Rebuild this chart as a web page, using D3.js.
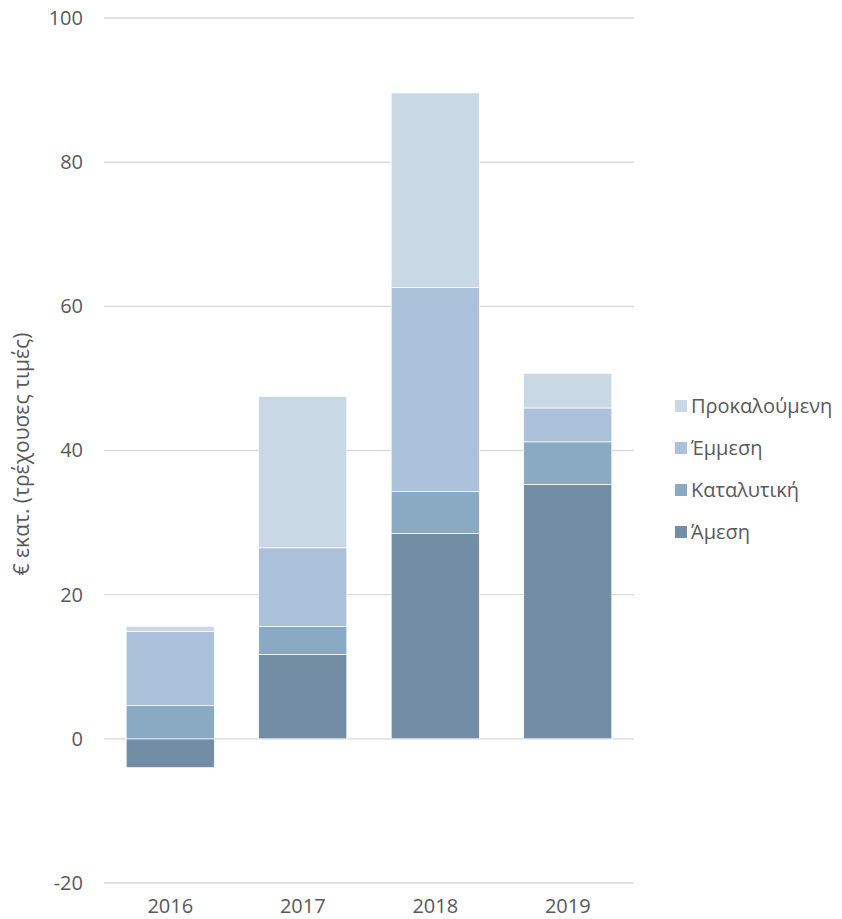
<!DOCTYPE html>
<html><head><meta charset="utf-8">
<script src="https://cdn.jsdelivr.net/npm/d3@7"></script>
<style>body{margin:0;background:#fff;} text{font-family:"Open Sans","Noto Sans",sans-serif;fill:#595959;}</style>
</head><body><svg id="c" width="842" height="919"></svg>
<script>
const years = ["2016","2017","2018","2019"];
const seriesNames = ["Άμεση","Καταλυτική","Έμμεση","Προκαλούμενη"];
const amesi = [-4.0, 11.7, 28.5, 35.3];
const katalytiki = [4.6, 3.9, 5.8, 5.9];
const emmesi = [10.3, 10.9, 28.3, 4.7];
const prokaloumeni = [0.7, 21.0, 27.0, 4.8];
const colors = ["#738da5","#8aa9c3","#abc1d9","#c9d8e5"];
const yTicks = [-20,0,20,40,60,80,100];

const svg = d3.select("#c");
const x = d3.scaleBand().domain(years).range([104,634]).paddingInner(0.335).paddingOuter(0.1675);
const y = d3.scaleLinear().domain([-20,100]).range([883,18]);
const FS = "20px";

// grid
svg.append("g").selectAll("line").data(yTicks).join("line")
  .attr("x1",104).attr("x2",634).attr("y1",d=>y(d)).attr("y2",d=>y(d))
  .attr("stroke","#d9d9d9").attr("stroke-width",1.3);

const allSeries = [amesi, katalytiki, emmesi, prokaloumeni];
const segs = [];
years.forEach((yr,i)=>{
  let pos=0, neg=0;
  allSeries.forEach((s,k)=>{
    const v=s[i];
    let y0,y1;
    if(v>=0){y0=pos;y1=pos+v;pos=y1;} else {y0=neg;y1=neg+v;neg=y1;}
    segs.push({yr,k,y0,y1});
  });
});
svg.append("g").selectAll("rect").data(segs).join("rect")
  .attr("x",d=>x(d.yr)).attr("width",x.bandwidth())
  .attr("y",d=>y(Math.max(d.y0,d.y1))).attr("height",d=>Math.abs(y(d.y0)-y(d.y1)))
  .attr("fill",d=>colors[d.k]).attr("stroke","#fff").attr("stroke-width",0.7);

// y axis labels
const ya = svg.append("g").attr("transform","translate(83,0)")
  .call(d3.axisLeft(y).tickValues(yTicks).tickFormat(d=>String(d)).tickSize(0).tickPadding(0));
ya.select(".domain").remove();
ya.selectAll("text").style("font-size",FS).style("fill","#595959").style("font-family","'Open Sans',sans-serif");

// x axis labels
const xa = svg.append("g").attr("transform","translate(0,899)")
  .call(d3.axisBottom(x).tickSize(0).tickPadding(0));
xa.select(".domain").remove();
xa.selectAll("text").style("font-size",FS).style("fill","#595959").style("font-family","'Open Sans',sans-serif");

// y title
svg.append("text").attr("transform","translate(29,454) rotate(-90)")
  .attr("text-anchor","middle").style("font-size","21px").text("€ εκατ. (τρέχουσες τιμές)");

// legend
const leg = svg.append("g");
const legOrder = [3,2,1,0];
legOrder.forEach((k,i)=>{
  const yy = 406 + i*42;
  leg.append("rect").attr("x",675).attr("y",yy-6).attr("width",12).attr("height",12).attr("fill",colors[k]);
  leg.append("text").attr("x",691).attr("y",yy).attr("dy","0.35em").style("font-size",FS).text(seriesNames[k]);
});
</script></body></html>
